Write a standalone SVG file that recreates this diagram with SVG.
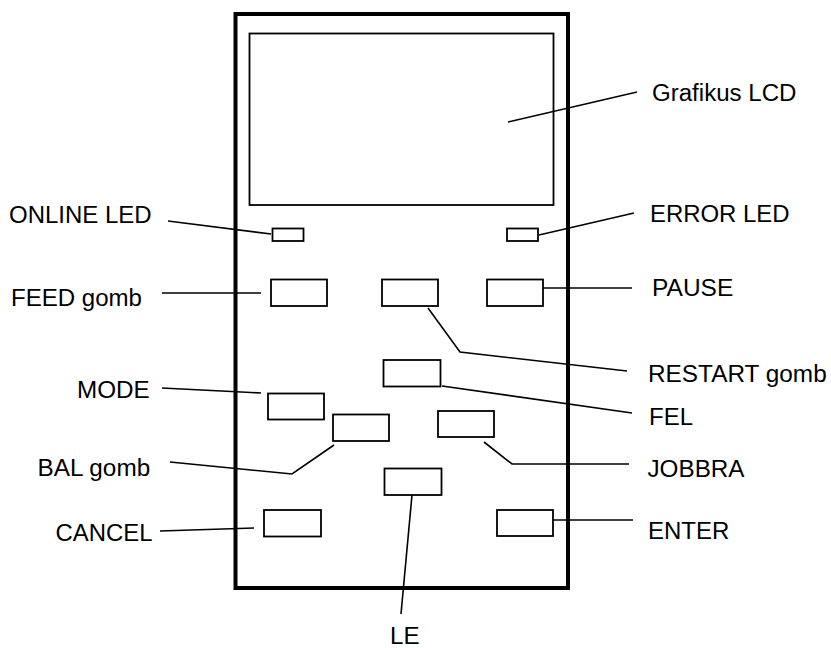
<svg xmlns="http://www.w3.org/2000/svg" width="831" height="648" viewBox="0 0 831 648">
<style>
.frame{fill:none;stroke:#000;stroke-width:4}
.box{fill:#fff;stroke:#000;stroke-width:1.8}
.ln{fill:none;stroke:#000;stroke-width:1.6}
text{font-family:"Liberation Sans",Arial,sans-serif;font-size:23px;fill:#000}
</style>
<rect width="831" height="648" fill="#fff"/>
<g id="frame"><rect class="frame" x="235.5" y="14" width="332.5" height="574"/></g>
<g id="lcd"><rect class="box" x="249.5" y="33.5" width="304" height="171.5" stroke-width="1.6"/><text x="652" y="101" textLength="144.4" lengthAdjust="spacingAndGlyphs">Grafikus LCD</text></g>
<g id="online-led"><rect class="box" x="272.5" y="228.5" width="31" height="12.5"/><text x="9" y="223" textLength="142.7" lengthAdjust="spacingAndGlyphs">ONLINE LED</text></g>
<g id="error-led"><rect class="box" x="507" y="228.5" width="31" height="12.5"/><text x="650" y="222" textLength="139.6" lengthAdjust="spacingAndGlyphs">ERROR LED</text></g>
<g id="feed"><rect class="box" x="271" y="279.5" width="56" height="26.5"/><text x="11" y="306" textLength="131" lengthAdjust="spacingAndGlyphs">FEED gomb</text></g>
<g id="restart"><rect class="box" x="382" y="279.5" width="56" height="26.5"/><text x="648" y="382" textLength="178.7" lengthAdjust="spacingAndGlyphs">RESTART gomb</text></g>
<g id="pause"><rect class="box" x="487" y="279.5" width="56" height="26.5"/><text x="652" y="296" textLength="81.3" lengthAdjust="spacingAndGlyphs">PAUSE</text></g>
<g id="fel"><rect class="box" x="383.5" y="360" width="57" height="26.5"/><text x="649" y="425" textLength="44" lengthAdjust="spacingAndGlyphs">FEL</text></g>
<g id="mode"><rect class="box" x="268" y="393.5" width="56" height="26"/><text x="77" y="398" textLength="72.7" lengthAdjust="spacingAndGlyphs">MODE</text></g>
<g id="bal"><rect class="box" x="333" y="414.5" width="56" height="26.5"/><text x="37.5" y="476" textLength="112.7" lengthAdjust="spacingAndGlyphs">BAL gomb</text></g>
<g id="jobbra"><rect class="box" x="438" y="411" width="56" height="26"/><text x="647.5" y="477" textLength="97" lengthAdjust="spacingAndGlyphs">JOBBRA</text></g>
<g id="le"><rect class="box" x="384.5" y="468.5" width="57" height="26.5"/><text x="390" y="644" textLength="29.6" lengthAdjust="spacingAndGlyphs">LE</text></g>
<g id="cancel"><rect class="box" x="264" y="510" width="57" height="26.5"/><text x="55.5" y="541" textLength="97" lengthAdjust="spacingAndGlyphs">CANCEL</text></g>
<g id="enter"><rect class="box" x="497" y="510" width="56" height="26"/><text x="648" y="539" textLength="81.3" lengthAdjust="spacingAndGlyphs">ENTER</text></g>
<g id="connectors">
<polyline class="ln" points="508,122 637,92"/>
<polyline class="ln" points="168,221 271,234"/>
<polyline class="ln" points="539,235 634,213"/>
<polyline class="ln" points="162,293 261,293"/>
<polyline class="ln" points="543,288 632,288"/>
<polyline class="ln" points="428,308 460,352 627,371"/>
<polyline class="ln" points="442,386 632,413"/>
<polyline class="ln" points="162,388 261,393"/>
<polyline class="ln" points="484,442 512,464 629,464"/>
<polyline class="ln" points="334,445 292,474 170,462"/>
<polyline class="ln" points="160,531 254,528"/>
<polyline class="ln" points="553,520 633,520"/>
<polyline class="ln" points="412,495 401,614"/>
</g>
</svg>
